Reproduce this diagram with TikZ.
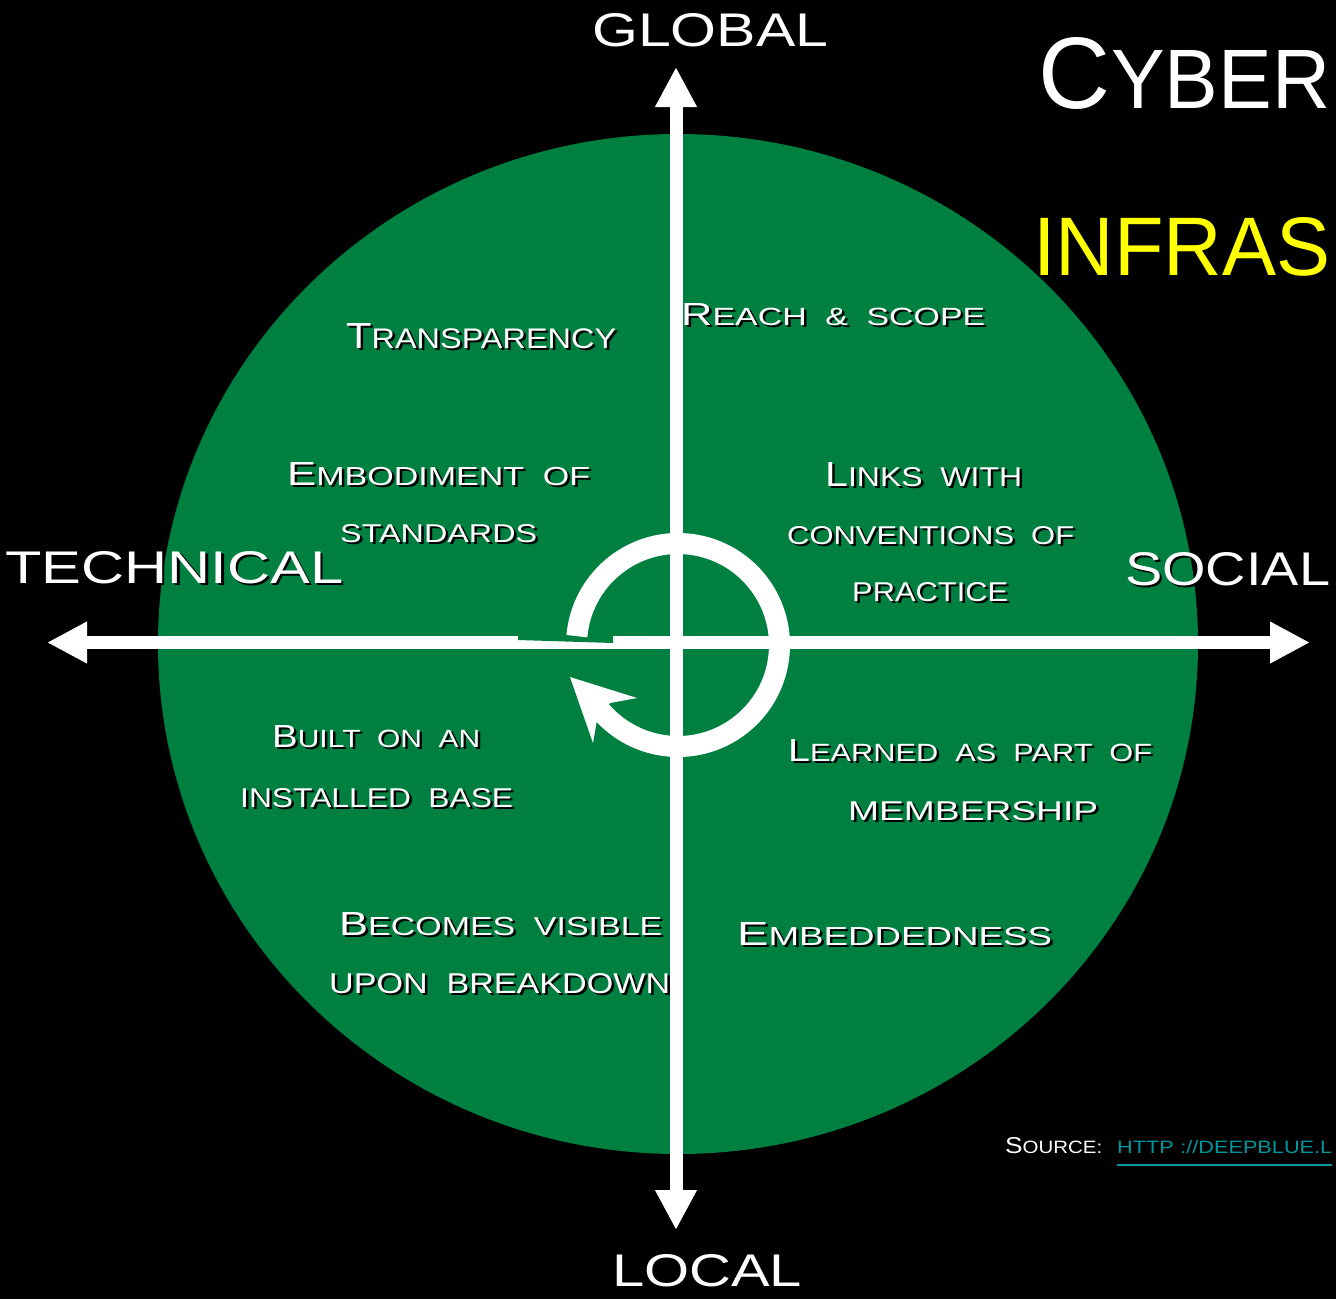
\documentclass[tikz,border=0pt]{standalone}
\usepackage{fontspec}
\usepackage{graphicx}
\setmainfont{Liberation Sans}
\usetikzlibrary{arrows.meta,calc}
\definecolor{cgreen}{RGB}{0,128,64}
\definecolor{cyellow}{RGB}{255,255,0}
\definecolor{cteal}{RGB}{0,150,155}
\newcommand\SCw[2]{{\fontsize{20}{24}\selectfont #1}{\fontsize{15.6}{18}\selectfont #2}}
\newcommand\fitbox[3]{\resizebox{#1pt}{#2pt}{#3}}
\newcommand\shd[1]{\makebox[0pt][l]{\kern2.5pt\raisebox{-2.5pt}{\color{black}#1}}#1}
\newcommand\wsp{\hspace{0.55em}}
\tikzset{
  lbl/.style={text=white, inner sep=0pt, anchor=base west, font=\fontsize{20}{24}\selectfont},
  axis/.style={draw=white, line width=13pt, {Triangle[length=40pt,width=39pt]}-{Triangle[length=40pt,width=39pt]}},
}
\begin{document}
\begin{tikzpicture}[x=1pt,y=-1pt]
\path[use as bounding box] (0,0) rectangle (1336,1299);
\clip (0,0) rectangle (1336,1299);
\fill[black] (0,0) rectangle (1336,1299);
% green disc
\fill[cgreen] (678,644) ellipse [x radius=520, y radius=510];

% quadrant texts
\node[lbl] (transp) at (346,348) {\shd{\fitbox{270}{25}{\SCw{T}{RANSPARENCY}}}};
\node[lbl] (reach) at (681,325) {\shd{\fitbox{304}{22}{\SCw{R}{EACH\wsp\&\wsp SCOPE}}}};
\node[lbl] (embod) at (287,485) {\shd{\fitbox{303}{23}{\SCw{E}{MBODIMENT\wsp OF}}}};
\node[lbl] (stand) at (340,542) {\shd{\fitbox{197}{18}{STANDARDS}}};
\node[lbl] (links) at (825,486) {\shd{\fitbox{197}{24}{\SCw{L}{INKS\wsp WITH}}}};
\node[lbl] (conv) at (787,544) {\shd{\fitbox{287}{18}{CONVENTIONS\wsp OF}}};
\node[lbl] (pract) at (852,601) {\shd{\fitbox{156}{19}{PRACTICE}}};
\node[lbl] (built) at (272,747) {\shd{\fitbox{208}{22}{\SCw{B}{UILT\wsp ON\wsp AN}}}};
\node[lbl] (inst) at (240,807) {\shd{\fitbox{273}{19}{INSTALLED\wsp BASE}}};
\node[lbl] (learn) at (788,761) {\shd{\fitbox{364}{22}{\SCw{L}{EARNED\wsp AS\wsp PART\wsp OF}}}};
\node[lbl] (memb) at (848,820) {\shd{\fitbox{250}{19}{MEMBERSHIP}}};
\node[lbl] (becom) at (339,935) {\shd{\fitbox{323}{23}{\SCw{B}{ECOMES\wsp VISIBLE}}}};
\node[lbl] (upon) at (329,993) {\shd{\fitbox{341}{20}{UPON\wsp BREAKDOWN}}};
\node[lbl] (embed) at (737,945) {\shd{\fitbox{315}{23}{\SCw{E}{MBEDDEDNESS}}}};

% axis labels
\node[lbl] (global) at (592,46) {\shd{\fitbox{236}{33}{GLOBAL}}};
\node[lbl] (local) at (612,1286) {\shd{\fitbox{190}{32}{LOCAL}}};
\node[lbl] (techn) at (5,583) {\shd{\fitbox{338}{32}{TECHNICAL}}};
\node[lbl] (social) at (1125,585) {\shd{\fitbox{205}{33}{SOCIAL}}};

% title
\node[lbl] (cyC) at (1038,108) {\shd{\fitbox{72}{71}{C}}};
\node[lbl] (cyR) at (1111,108) {\shd{\fitbox{219}{58}{YBER}}};
\node[lbl, text=cyellow] (infr) at (1033,275) {\shd{\fitbox{297}{58}{INFRAS}}};

% source
\node[lbl] (src) at (1005,1153) {\fitbox{97}{16}{\SCw{S}{OURCE:}}};
\node[lbl, text=cteal] (link) at (1117,1153) {\fitbox{215}{13}{HTTP\hspace{0.3em}://DEEPBLUE.L}};
\draw[cteal, line width=2pt] ([yshift=-12pt]link.base west) -- ([yshift=-12pt]link.base east);

% axes
\coordinate (W) at (47,642.5);
\coordinate (E) at (1310,642.5);
\coordinate (N) at (676,67);
\coordinate (S) at (676,1230);
\draw[axis] (W) -- (E);
\draw[axis] (N) -- (S);

% notch on the line
\fill[cgreen] (518,635.5) -- (613,635.5) -- (613,643) -- (518,640) -- cycle;

% circular arrow
\coordinate (rc) at (678,645);
\draw[white, line width=21pt] ($(rc)+(-175:101.5)$) arc[start angle=-175, end angle=140, radius=101.5];
\coordinate (tip) at (570,677);
\fill[white] (tip) -- (637,698) -- (610,703) -- (597,720) -- (593,743) -- cycle;
\end{tikzpicture}
\end{document}
